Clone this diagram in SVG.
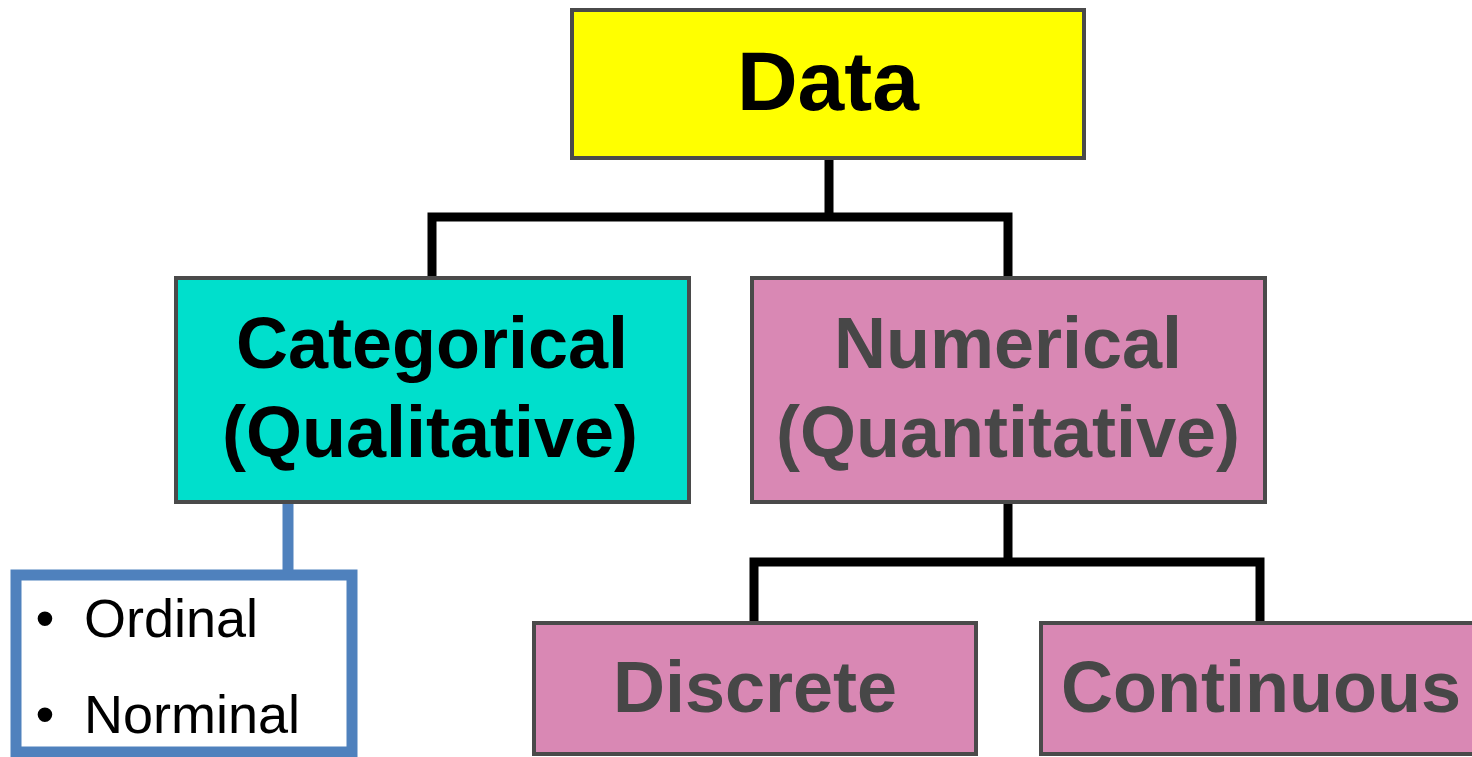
<svg xmlns="http://www.w3.org/2000/svg" width="1472" height="757" viewBox="0 0 1472 757">
<style>
.box{stroke:#4a4a4a;stroke-width:4}
.t{font-family:"Liberation Sans",Arial,sans-serif;font-weight:bold;font-size:72px;text-anchor:middle}
.g{fill:#474747}
.k{fill:#000}
.b{font-family:"Liberation Sans",Arial,sans-serif;font-size:54px;fill:#000}
.c{fill:none;stroke:#000;stroke-width:9}
</style>
<rect width="1472" height="757" fill="#fff"/>
<g id="connectors">
<path class="c" d="M829 158V217M432 276V217H1008V276"/>
<path class="c" d="M1008 503V562M754 621V562H1260V621"/>
<path d="M288 503V583" fill="none" stroke="#4f81bd" stroke-width="11"/>
</g>
<g id="data">
<rect class="box" x="572" y="10" width="512" height="148" fill="#ffff00"/>
<text class="t k" x="828" y="110" style="font-size:84px">Data</text>
</g>
<g id="categorical">
<rect class="box" x="176" y="278" width="513" height="224" fill="#00dfcc"/>
<text class="t k" x="432" y="368">Categorical</text>
<text class="t k" x="430" y="457">(Qualitative)</text>
</g>
<g id="numerical">
<rect class="box" x="752" y="278" width="513" height="224" fill="#d988b4"/>
<text class="t g" x="1008" y="368">Numerical</text>
<text class="t g" x="1008" y="457">(Quantitative)</text>
</g>
<g id="discrete">
<rect class="box" x="534" y="623" width="442" height="131" fill="#d988b4"/>
<text class="t g" x="755" y="712">Discrete</text>
</g>
<g id="continuous">
<rect class="box" x="1041" y="623" width="442" height="131" fill="#d988b4"/>
<text class="t g" x="1261" y="712">Continuous</text>
</g>
<g id="types">
<rect x="16" y="575" width="336" height="177" fill="#fff" stroke="#4f81bd" stroke-width="11"/>
<text class="b" x="35.5" y="637">•</text>
<text class="b" x="84" y="637">Ordinal</text>
<text class="b" x="35.5" y="733">•</text>
<text class="b" x="84" y="733">Norminal</text>
</g>
</svg>
